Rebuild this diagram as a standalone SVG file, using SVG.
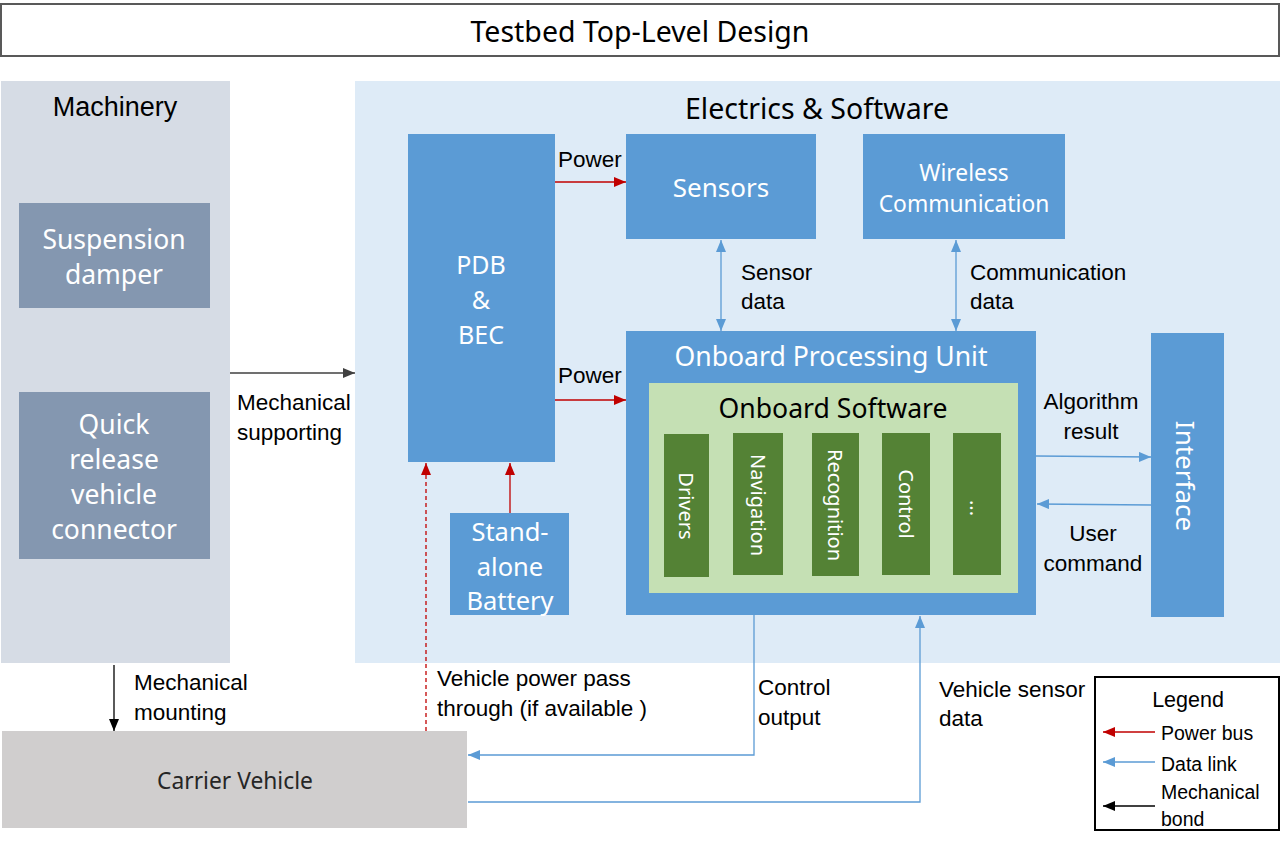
<svg xmlns="http://www.w3.org/2000/svg" width="1281" height="846" viewBox="0 0 1281 846">
<defs>
<marker id="mRed" markerWidth="12" markerHeight="10" refX="12" refY="5" orient="auto-start-reverse" markerUnits="userSpaceOnUse"><path d="M0,0 L12,5 L0,10 Z" fill="#c00000"/></marker>
<marker id="mBlue" markerWidth="12" markerHeight="10" refX="12" refY="5" orient="auto-start-reverse" markerUnits="userSpaceOnUse"><path d="M0,0 L12,5 L0,10 Z" fill="#5b9bd5"/></marker>
<marker id="mBlack" markerWidth="12" markerHeight="10" refX="12" refY="5" orient="auto-start-reverse" markerUnits="userSpaceOnUse"><path d="M0,0 L12,5 L0,10 Z" fill="#000"/></marker>
<marker id="mGray" markerWidth="12" markerHeight="10" refX="12" refY="5" orient="auto-start-reverse" markerUnits="userSpaceOnUse"><path d="M0,0 L12,5 L0,10 Z" fill="#404040"/></marker>
</defs>
<style>
.box{font-family:"Noto Sans","Open Sans",sans-serif;fill:#fff;text-anchor:middle}
.hdr{font-family:"Noto Sans","Open Sans",sans-serif;fill:#000;text-anchor:middle}
.lbl{font-family:"Liberation Sans","Arial",sans-serif;font-size:22.5px;fill:#000}
.leg{font-family:"Liberation Sans","Arial",sans-serif;font-size:19.5px;fill:#000}
.blue{fill:#5b9bd5}
.green{fill:#548235}
.red{stroke:#c00000;stroke-width:1.3;fill:none}
.data{stroke:#5b9bd5;stroke-width:1.3;fill:none}
.mech{stroke:#000;stroke-width:1.3;fill:none}
</style>
<rect x="0" y="0" width="1281" height="846" fill="#fff"/>

<g id="title">
<rect x="1" y="4" width="1278" height="52" fill="#fff" stroke="#595959" stroke-width="2"/>
<text class="hdr" x="640" y="42" font-size="28.5">Testbed Top-Level Design</text>
</g>

<g id="machinery">
<rect x="1" y="81" width="229" height="582" fill="#d6dce5"/>
<text x="115" y="116" font-family="Liberation Sans, Arial, sans-serif" font-size="27" text-anchor="middle" fill="#000">Machinery</text>
</g>
<g id="suspension">
<rect x="19" y="203" width="191" height="105" fill="#8497b0"/>
<text class="box" font-size="26.5"><tspan x="114" y="249">Suspension</tspan><tspan x="114" y="284">damper</tspan></text>
</g>
<g id="quickrelease">
<rect x="19" y="392" width="191" height="167" fill="#8497b0"/>
<text class="box" font-size="26.5"><tspan x="114" y="434">Quick</tspan><tspan x="114" y="469">release</tspan><tspan x="114" y="504">vehicle</tspan><tspan x="114" y="539">connector</tspan></text>
</g>

<g id="electrics">
<rect x="355" y="81" width="925" height="582" fill="#deebf7"/>
<text class="hdr" x="817" y="119" font-size="28.5">Electrics &amp; Software</text>
</g>
<g id="pdb">
<rect class="blue" x="408" y="134" width="147" height="328"/>
<text class="box" font-size="25"><tspan x="481" y="274">PDB</tspan><tspan x="481" y="309">&amp;</tspan><tspan x="481" y="344">BEC</tspan></text>
</g>
<g id="sensors">
<rect class="blue" x="626" y="134" width="190" height="105"/>
<text class="box" x="721" y="197" font-size="26">Sensors</text>
</g>
<g id="wireless">
<rect class="blue" x="863" y="134" width="202" height="105"/>
<text class="box" font-size="22.8"><tspan x="964" y="181">Wireless</tspan><tspan x="964" y="212">Communication</tspan></text>
</g>
<g id="opu">
<rect class="blue" x="626" y="331" width="410" height="284"/>
<text class="box" x="831" y="366" font-size="26.6">Onboard Processing Unit</text>
</g>
<g id="software">
<rect x="649" y="383" width="369" height="210" fill="#c5e0b4"/>
<text class="hdr" x="833" y="418" font-size="26.6">Onboard Software</text>
</g>
<g id="drivers">
<rect class="green" x="664" y="434" width="45" height="143"/>
<text class="box" font-size="20" dominant-baseline="central" transform="rotate(90 686 506)" x="686" y="506">Drivers</text>
</g>
<g id="navigation">
<rect class="green" x="733" y="433" width="50" height="142"/>
<text class="box" font-size="20" dominant-baseline="central" transform="rotate(90 758 505)" x="758" y="505">Navigation</text>
</g>
<g id="recognition">
<rect class="green" x="812" y="433" width="47" height="143"/>
<text class="box" font-size="20" dominant-baseline="central" transform="rotate(90 835 505)" x="835" y="505">Recognition</text>
</g>
<g id="control">
<rect class="green" x="882" y="433" width="48" height="142"/>
<text class="box" font-size="20" dominant-baseline="central" transform="rotate(90 906 504)" x="906" y="504">Control</text>
</g>
<g id="more">
<rect class="green" x="953" y="433" width="48" height="142"/>
<text class="box" font-size="20" dominant-baseline="central" transform="rotate(90 977 508)" x="977" y="508">...</text>
</g>
<g id="interface">
<rect class="blue" x="1151" y="333" width="73" height="284"/>
<text class="box" font-size="26" dominant-baseline="central" transform="rotate(90 1186 476)" x="1186" y="476">Interface</text>
</g>
<g id="battery">
<rect class="blue" x="450" y="513" width="119" height="102"/>
<text class="box" font-size="25.5"><tspan x="510" y="541">Stand-</tspan><tspan x="510" y="576">alone</tspan><tspan x="510" y="610">Battery</tspan></text>
</g>
<g id="carrier">
<rect x="2" y="731" width="465" height="97" fill="#d0cece"/>
<text x="235" y="789" font-family="Noto Sans, Open Sans, sans-serif" font-size="22.8" fill="#262626" text-anchor="middle">Carrier Vehicle</text>
</g>

<g id="connectors">
<line class="red" x1="555" y1="182" x2="626" y2="182" marker-end="url(#mRed)"/>
<line class="red" x1="555" y1="400" x2="626" y2="400" marker-end="url(#mRed)"/>
<line class="red" x1="510" y1="513" x2="510" y2="463" marker-end="url(#mRed)"/>
<line class="red" x1="426" y1="731" x2="426" y2="463" stroke-dasharray="4,3" marker-end="url(#mRed)"/>
<line class="data" x1="721" y1="240" x2="721" y2="331" marker-start="url(#mBlue)" marker-end="url(#mBlue)"/>
<line class="data" x1="956" y1="240" x2="956" y2="331" marker-start="url(#mBlue)" marker-end="url(#mBlue)"/>
<line class="data" x1="1036" y1="456" x2="1151" y2="457" marker-end="url(#mBlue)"/>
<line class="data" x1="1151" y1="505" x2="1037" y2="504" marker-end="url(#mBlue)"/>
<polyline class="data" points="754,615 754,755 468,755" marker-end="url(#mBlue)"/>
<polyline class="data" points="468,802 920,802 920,616" marker-end="url(#mBlue)"/>
<line stroke="#404040" stroke-width="1.3" x1="230" y1="373" x2="355" y2="373" marker-end="url(#mGray)"/>
<line class="mech" x1="114" y1="665" x2="114" y2="731" marker-end="url(#mBlack)"/>
</g>

<g id="labels">
<text class="lbl" x="558" y="167">Power</text>
<text class="lbl" x="558" y="383">Power</text>
<text class="lbl"><tspan x="741" y="280">Sensor</tspan><tspan x="741" y="309">data</tspan></text>
<text class="lbl"><tspan x="970" y="280">Communication</tspan><tspan x="970" y="309">data</tspan></text>
<text class="lbl" text-anchor="middle"><tspan x="1091" y="409">Algorithm</tspan><tspan x="1091" y="439">result</tspan></text>
<text class="lbl" text-anchor="middle"><tspan x="1093" y="541">User</tspan><tspan x="1093" y="571">command</tspan></text>
<text class="lbl"><tspan x="237" y="410">Mechanical</tspan><tspan x="237" y="440">supporting</tspan></text>
<text class="lbl"><tspan x="134" y="690">Mechanical</tspan><tspan x="134" y="720">mounting</tspan></text>
<text class="lbl"><tspan x="437" y="686">Vehicle power pass</tspan><tspan x="437" y="716">through (if available )</tspan></text>
<text class="lbl"><tspan x="758" y="695">Control</tspan><tspan x="758" y="725">output</tspan></text>
<text class="lbl"><tspan x="939" y="697">Vehicle sensor</tspan><tspan x="939" y="726">data</tspan></text>
</g>

<g id="legend">
<rect x="1095" y="677" width="184" height="153" fill="#fff" stroke="#000" stroke-width="2"/>
<text class="leg" x="1188" y="707" text-anchor="middle" style="font-size:21.5px">Legend</text>
<line class="red" x1="1155" y1="732" x2="1103" y2="732" marker-end="url(#mRed)"/>
<text class="leg" x="1161" y="740">Power bus</text>
<line class="data" x1="1155" y1="762" x2="1103" y2="762" marker-end="url(#mBlue)"/>
<text class="leg" x="1161" y="771">Data link</text>
<line class="mech" x1="1155" y1="806" x2="1103" y2="806" marker-end="url(#mBlack)"/>
<text class="leg"><tspan x="1161" y="799">Mechanical</tspan><tspan x="1161" y="826">bond</tspan></text>
</g>
</svg>
